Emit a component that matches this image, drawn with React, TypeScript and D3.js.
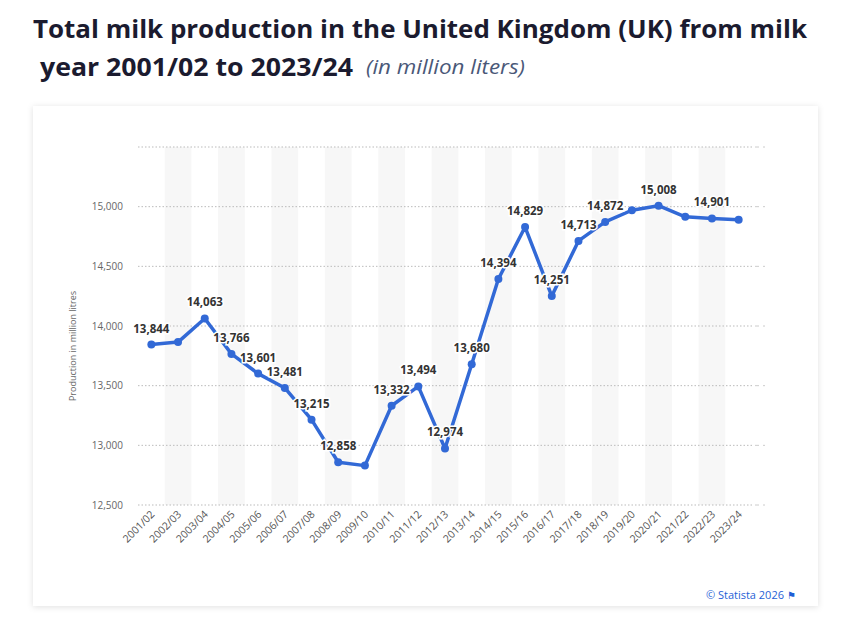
import React from 'react';
import * as d3 from 'd3';

const years = ['2001/02','2002/03','2003/04','2004/05','2005/06','2006/07','2007/08','2008/09','2009/10','2010/11','2011/12','2012/13','2013/14','2014/15','2015/16','2016/17','2017/18','2018/19','2019/20','2020/21','2021/22','2022/23','2023/24'];
const production = [13844,13865,14063,13766,13601,13481,13215,12858,12830,13332,13494,12974,13680,14394,14829,14251,14713,14872,14970,15008,14915,14901,14890];
const showLabel = [true,false,true,true,true,true,true,true,false,true,true,true,true,true,true,true,true,true,false,true,false,true,false];
const yTicks = [12500,13000,13500,14000,14500,15000,15500];

const W = 854, H = 624;
const left = 138, right = 752, top = 147, bottom = 505;

export default function App() {
  const x = d3.scaleBand<string>().domain(years).range([left, right]);
  const y = d3.scaleLinear().domain([12500, 15500]).range([bottom, top]);
  const cx = (d: string) => (x(d) || 0) + x.bandwidth() / 2;
  const line = d3.line<number>().x((_, i) => cx(years[i])).y(d => y(d));
  const font = '"Open Sans", sans-serif';

  return (
    <svg width={W} height={H} style={{ position: 'absolute', left: 0, top: 0, fontFamily: font }}>
      <defs>
        <filter id="sh" x="-5%" y="-5%" width="110%" height="110%">
          <feDropShadow dx="0" dy="1" stdDeviation="3" floodColor="#000" floodOpacity="0.12" />
        </filter>
      </defs>
      <rect width={W} height={H} fill="#fff" />
      <text x={33} y={38} fontSize={24.5} fontWeight={700} fill="#1b1b2f" textLength={774} lengthAdjust="spacingAndGlyphs">Total milk production in the United Kingdom (UK) from milk</text>
      <text x={40} y={76} fontSize={24.5} fontWeight={700} fill="#1b1b2f" textLength={313} lengthAdjust="spacingAndGlyphs">year 2001/02 to 2023/24</text>
      <text x={366} y={74} fontSize={20} fontStyle="italic" fill="#4a5878" textLength={159} lengthAdjust="spacingAndGlyphs">(in million liters)</text>
      <rect x={33} y={106} width={785} height={500} fill="#fff" filter="url(#sh)" />
      {years.map((d, i) => i % 2 === 1 && (
        <rect key={d} x={x(d)} y={top} width={x.bandwidth()} height={bottom - top} fill="#f7f7f7" />
      ))}
      {yTicks.map(t => (
        <g key={t}>
          <line x1={left} x2={right} y1={y(t)} y2={y(t)} stroke="#bbb" strokeDasharray="1.5,2" />
          <line x1={755} x2={765} y1={y(t)} y2={y(t)} stroke="#ccc" strokeDasharray="4,4" />
          {t < 15500 && (
            <text x={123} y={y(t) + 3.5} textAnchor="end" fontSize={10} fill="#666">{d3.format(',')(t)}</text>
          )}
        </g>
      ))}
      <text transform={`translate(76,${(top + bottom) / 2 + 20}) rotate(-90)`} textAnchor="middle" fontSize={9} fill="#666">Production in million litres</text>
      {years.map(d => (
        <text key={d} transform={`translate(${cx(d) + 4},${bottom + 10}) rotate(-45)`} textAnchor="end" fontSize={10.5} fill="#555">{d}</text>
      ))}
      <path d={line(production) || ''} fill="none" stroke="#3269d6" strokeWidth={3.5} strokeLinejoin="round" />
      {production.map((v, i) => (
        <circle key={i} cx={cx(years[i])} cy={y(v)} r={4} fill="#3269d6" />
      ))}
      {production.map((v, i) => showLabel[i] && (
        <text key={'l' + i} x={cx(years[i])} y={y(v) - 12} textAnchor="middle" fontSize={11.5} fontWeight={700} fill="#333"
          stroke="#fff" strokeWidth={3} paintOrder="stroke">{d3.format(',')(v)}</text>
      ))}
      <text x={784} y={599} textAnchor="end" fontSize={11} fill="#1f5fd6">© Statista 2026</text>
      <text x={787} y={599} fontSize={10} fill="#1f5fd6">⚑</text>
    </svg>
  );
}
